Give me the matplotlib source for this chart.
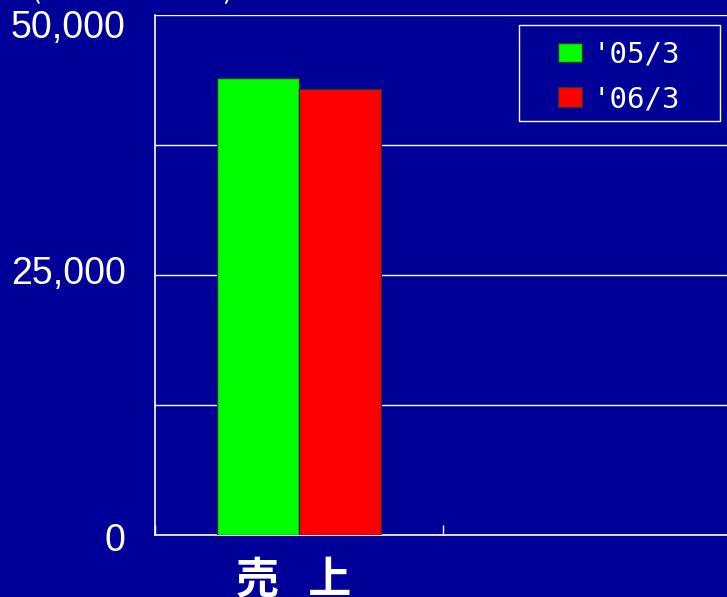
import matplotlib.pyplot as plt
from matplotlib.patches import Rectangle
from matplotlib.ticker import FixedLocator, FuncFormatter
from matplotlib.transforms import ScaledTranslation

categories = ['売   上', '']
series = ["'05/3", "'06/3"]
values_05 = [43900, 0]
values_06 = [42900, 0]
colors = ['#00ff00', '#ff0000']
bg = '#000099'

W, H = 727, 597
fig = plt.figure(figsize=(W / 100, H / 100), dpi=100, facecolor=bg)
ax = fig.add_axes([155 / W, 62 / H, 576 / W, 520 / H])
ax.set_facecolor(bg)

x = [0, 1]
w = 82 / 288
ax.bar([i - w / 2 for i in x[:1]], values_05[:1], width=w, color=colors[0],
       edgecolor='#333333', linewidth=1, label=series[0], zorder=3)
ax.bar([i + w / 2 for i in x[:1]], values_06[:1], width=w, color=colors[1],
       edgecolor='#333333', linewidth=1, label=series[1], zorder=3)

ax.set_xlim(-0.5, 1.5)
ax.set_ylim(0, 50000)

# y axis: labels every 25,000, grid every 12,500
ax.yaxis.set_major_locator(FixedLocator([0, 25000, 50000]))
ax.yaxis.set_minor_locator(FixedLocator([12500, 37500]))
ax.yaxis.set_major_formatter(FuncFormatter(lambda v, p: f'{int(v):,}'))
ax.tick_params(axis='y', which='both', length=0, pad=21, labelsize=27,
               labelcolor='white')
ax.grid(axis='y', which='both', color='white', linewidth=1, zorder=0)

# x axis: category labels, boundary ticks
ax.set_xticks(x)
ax.set_xticklabels(categories, fontsize=31, color='white', fontweight='bold',
                   family=['Noto Sans CJK JP', 'DejaVu Sans'])
ax.xaxis.set_minor_locator(FixedLocator([-0.5, 0.5, 1.5]))
ax.tick_params(axis='x', which='major', length=0, pad=17)
ax.tick_params(axis='x', which='minor', direction='in', length=7,
               color='white', width=1)

# small nudges of the labels as in the original slide
ylab_shift = [-2, 5, -9]   # px, for 0 / 25,000 / 50,000
for lab, dy in zip(ax.get_yticklabels(), ylab_shift):
    lab.set_family('Liberation Sans')
    lab.set_transform(lab.get_transform()
                      + ScaledTranslation(0, dy / 100, fig.dpi_scale_trans))
xl = ax.get_xticklabels()[0]
xl.set_transform(xl.get_transform()
                 + ScaledTranslation(-5 / 100, 0, fig.dpi_scale_trans))

for side in ['top', 'right']:
    ax.spines[side].set_visible(False)
for side in ['left', 'bottom']:
    ax.spines[side].set_color('white')
    ax.spines[side].set_linewidth(1.2)

# legend entries, frame drawn separately
leg = fig.legend(loc='upper left', bbox_to_anchor=(558 / W, 1 - 40.5 / H),
                 frameon=False, borderpad=0, borderaxespad=0,
                 prop={'family': 'DejaVu Sans Mono', 'size': 21},
                 labelcolor='white', handlelength=0.82, handleheight=0.65,
                 handletextpad=0.35, labelspacing=0.58)
for h in leg.legend_handles:
    h.set_edgecolor('#333333')
fig.add_artist(Rectangle((519 / W, 1 - 121 / H), 201 / W, 96 / H,
                         transform=fig.transFigure, fill=False,
                         edgecolor='white', linewidth=1))

fig.text(30 / W, 599 / H, '(単位：百万円)', color='white', fontsize=22,
         va='baseline', family=['Noto Sans CJK JP', 'DejaVu Sans'])

fig.savefig('out.png', dpi=100, facecolor=bg)
